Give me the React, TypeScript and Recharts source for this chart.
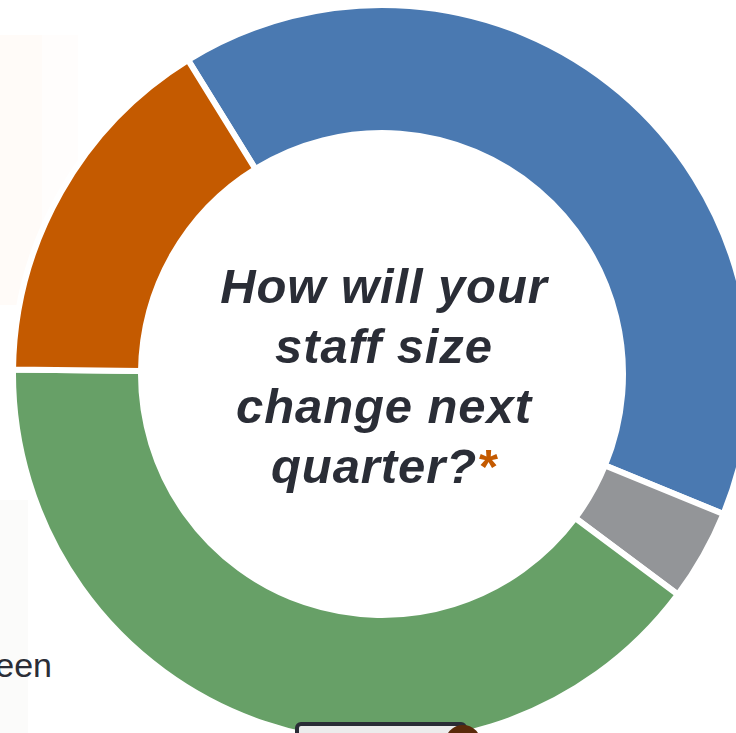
import { PieChart, Pie, Cell } from "recharts";

const W = 736;
const H = 733;
const CX = 382;
const CY = 374;

// shares of respondents, clockwise from the top-left
const categories = ["Increase", "Don't know", "Stay the same", "Decrease"];
const shares = [40, 4, 40, 16];
const colors = ["#4a79b1", "#939598", "#67a067", "#c45a00"];

const titleLines = ["How will your", "staff size", "change next", "quarter?"];

const data = categories.map((name, i) => ({ name, value: shares[i] }));

const INK = "#2a2d36";

export default function App() {
  return (
    <div
      style={{
        position: "absolute",
        left: 0,
        top: 0,
        width: W,
        height: H,
        overflow: "hidden",
        background: "#ffffff",
      }}
    >
      {/* faint side panels */}
      <div style={{ position: "absolute", left: 0, top: 35, width: 42, height: 270, background: "#fffbf8" }} />
      <div style={{ position: "absolute", left: 42, top: 35, width: 36, height: 270, background: "#fffdfc" }} />
      <div style={{ position: "absolute", left: 0, top: 500, width: 28, height: 233, background: "#fbfbfa" }} />

      <div style={{ position: "absolute", left: 0, top: 0 }}>
        <PieChart width={W} height={H} margin={{ top: 0, right: 0, bottom: 0, left: 0 }}>
          <Pie
            data={data}
            dataKey="value"
            nameKey="name"
            cx={CX}
            cy={CY}
            innerRadius={241}
            outerRadius={369}
            startAngle={121.7}
            endAngle={121.7 - 360}
            stroke="#ffffff"
            strokeWidth={6}
            isAnimationActive={false}
          >
            {data.map((d, i) => (
              <Cell key={d.name} fill={colors[i]} />
            ))}
          </Pie>
        </PieChart>
      </div>

      <svg
        width={W}
        height={H}
        style={{ position: "absolute", left: 0, top: 0 }}
        fontFamily="'Liberation Sans', Arial, sans-serif"
      >
        {titleLines.map((line, i) => (
          <text
            key={line}
            x={CX + 2}
            y={CY - 71 + i * 60}
            textAnchor="middle"
            fontSize={49}
            fontWeight={700}
            fontStyle="italic"
            fill={INK}
            letterSpacing={0.9}
          >
            {line}
            {i === titleLines.length - 1 && <tspan fill="#c45a00">*</tspan>}
          </text>
        ))}

        <text x={52} y={677} textAnchor="end" fontSize={34} fill={INK}>
          Between
        </text>

        <rect x={297} y={724} width={168} height={30} rx={4} fill="#ececec" stroke={INK} strokeWidth={4} />
        <circle cx={463} cy={743} r={18} fill="#5a2a0a" />
      </svg>
    </div>
  );
}
